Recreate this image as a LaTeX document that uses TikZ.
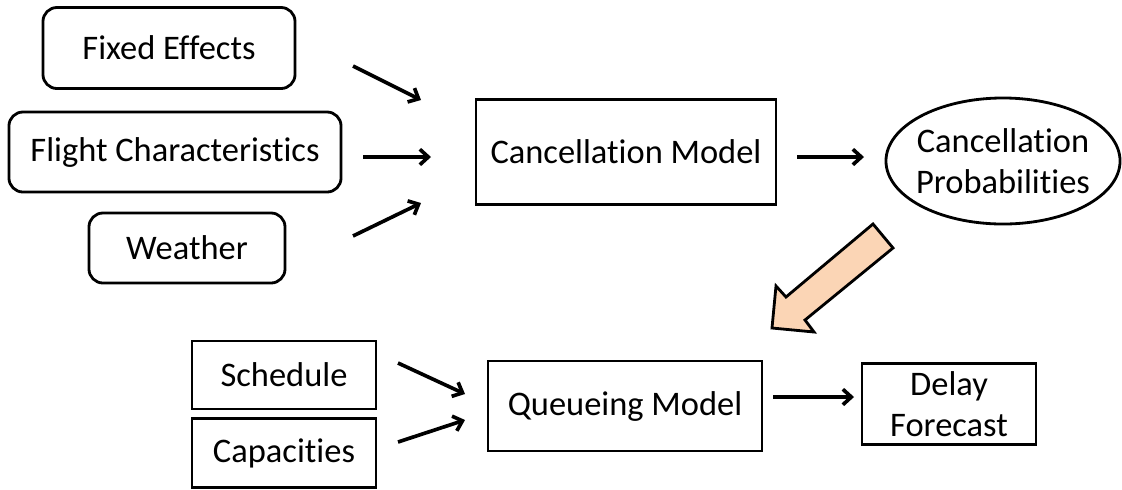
\documentclass[tikz,border=0pt]{standalone}
\usepackage{fontspec}
\setmainfont{Carlito}[Ligatures={NoCommon,NoContextual}]
\usetikzlibrary{arrows.meta,shapes.geometric}

\begin{document}
\begin{tikzpicture}[x=0.025cm,y=-0.025cm,>={Straight Barb[length=6pt,width=11pt]},
  box/.style={draw,line width=2pt,align=center,inner sep=0pt,
    font=\fontsize{24.5}{29}\selectfont},
  input/.style={box,rounded corners=0.35cm},
  link/.style={->,line width=2.6pt}]
\useasboundingbox (0,0) rectangle (1122,489);
% inputs of the cancellation model
\node[input,minimum width=6.3cm,minimum height=2.025cm] (fixed) at (169,48) {Fixed Effects};
\node[input,minimum width=8.3cm,minimum height=2cm] (flight) at (175,152) {Flight Characteristics};
\node[input,minimum width=4.9cm,minimum height=1.75cm] (weather) at (187,248) {Weather};
% cancellation model and its output
\node[box,minimum width=7.5cm,minimum height=2.625cm] (cancel) at (626,152) {Cancellation Model};
\node[box,ellipse,inner xsep=-3pt,minimum width=5.85cm,minimum height=3.15cm] (probs) at (1003,161)
  {Cancellation\\Probabilities};
% queueing model
\node[box,minimum width=4.6cm,minimum height=1.7cm] (sched) at (284,375) {Schedule};
\node[box,minimum width=4.6cm,minimum height=1.725cm] (capac) at (284,453) {Capacities};
\node[box,minimum width=6.85cm,minimum height=2.25cm] (queue) at (625,406) {Queueing Model};
\node[box,minimum width=4.35cm,minimum height=2.025cm] (delay) at (949,404) {Delay\\Forecast};
% arrow ends
\coordinate (fixed-out) at (353,66);   \coordinate (fixed-in) at (421,100);
\coordinate (flight-out) at (363,157); \coordinate (flight-in) at (431,157);
\coordinate (weather-out) at (353,236);\coordinate (weather-in) at (421,203);
\coordinate (cancel-out) at (797,157); \coordinate (probs-in) at (864,157);
\coordinate (sched-out) at (398,363);  \coordinate (sched-in) at (465,394);
\coordinate (capac-out) at (398,442);  \coordinate (capac-in) at (465,420);
\coordinate (queue-out) at (773,397);  \coordinate (delay-in) at (854,397);
\draw[link] (fixed-out) -- (fixed-in);
\draw[link] (flight-out) -- (flight-in);
\draw[link] (weather-out) -- (weather-in);
\draw[link] (cancel-out) -- (probs-in);
\draw[link] (sched-out) -- (sched-in);
\draw[link] (capac-out) -- (capac-in);
\draw[link] (queue-out) -- (delay-in);
% block arrow: probabilities feed the queueing model
\draw[line width=2pt,fill={rgb,255:red,251;green,213;blue,181}]
  (772,328) -- (814,332) -- (805,320) -- (893,248) -- (873,224)
  -- (786,297) -- (776,286) -- cycle;
\end{tikzpicture}
\end{document}
